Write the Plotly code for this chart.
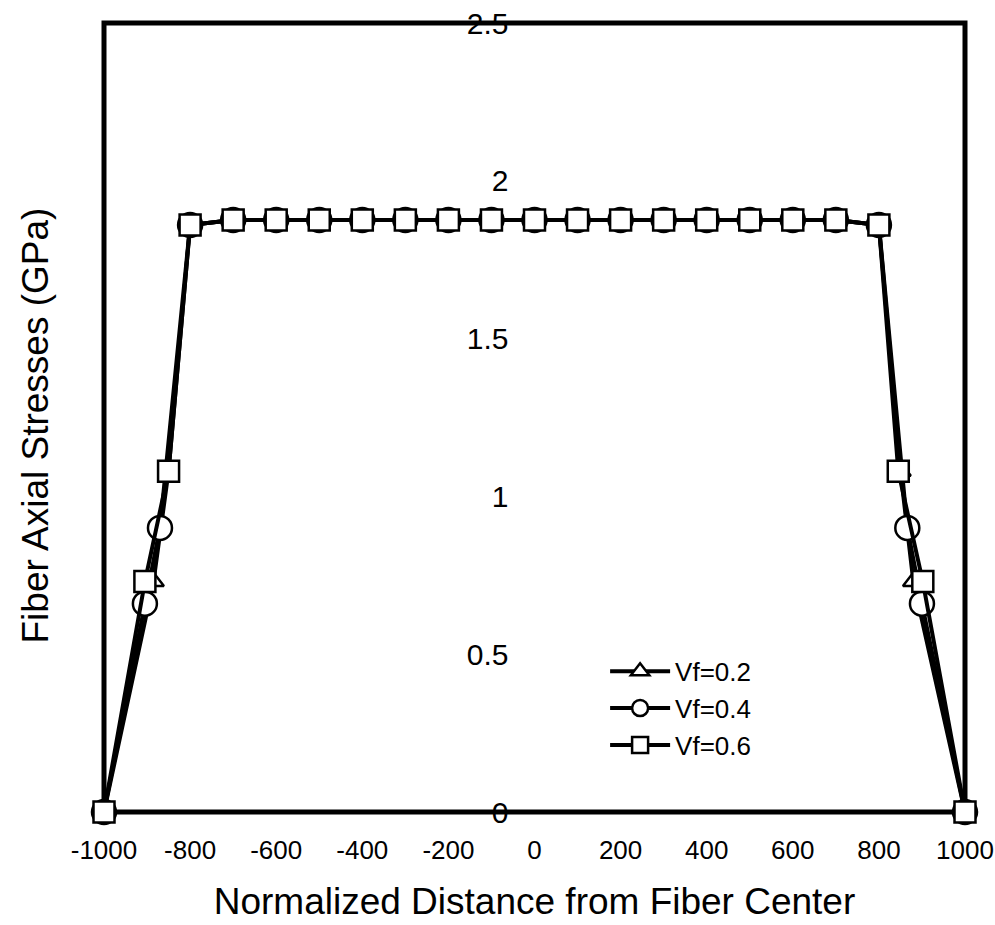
import plotly.graph_objects as go

# Data
plateau_x = [-700, -600, -500, -400, -300, -200, -100, 0, 100, 200, 300, 400, 500, 600, 700]
plateau_y = [1.876] * len(plateau_x)

x_vf02 = [-1000, -885, -850, -800] + plateau_x + [800, 850, 880, 1000]
y_vf02 = [0.0, 0.73, 1.08, 1.86] + plateau_y + [1.86, 1.08, 0.73, 0.0]

x_vf04 = [-1000, -905, -870, -800] + plateau_x + [800, 866, 900, 1000]
y_vf04 = [0.0, 0.66, 0.90, 1.86] + plateau_y + [1.86, 0.90, 0.66, 0.0]

x_vf06 = [-1000, -905, -850, -800] + plateau_x + [800, 845, 902, 1000]
y_vf06 = [0.0, 0.73, 1.08, 1.86] + plateau_y + [1.86, 1.08, 0.73, 0.0]

series_names = ["Vf=0.2", "Vf=0.4", "Vf=0.6"]
series_x = [x_vf02, x_vf04, x_vf06]
series_y = [y_vf02, y_vf04, y_vf06]
symbols = ["triangle-up", "circle", "square"]
marker_sizes = [18, 24, 21]

x_ticks = [-1000, -800, -600, -400, -200, 0, 200, 400, 600, 800, 1000]
y_ticks = [0, 0.5, 1, 1.5, 2, 2.5]
y_ticklabels = ["0", "0.5", "1", "1.5", "2", "2.5"]

FONT = "Liberation Sans, Arial, sans-serif"

fig = go.Figure()
for name, xs, ys, sym, ms in zip(series_names, series_x, series_y, symbols, marker_sizes):
    fig.add_trace(go.Scatter(
        x=xs, y=ys, name=name, mode="lines+markers",
        line=dict(color="black", width=4),
        marker=dict(symbol=sym, size=ms, color="white",
                    line=dict(width=2.5, color="black")),
        cliponaxis=False,
    ))

fig.update_layout(
    width=995, height=925,
    margin=dict(l=104, r=30, t=23, b=113, autoexpand=False),
    paper_bgcolor="white", plot_bgcolor="white",
    font=dict(family=FONT, color="black"),
    showlegend=True,
    legend=dict(
        x=0.582, y=0.208, xanchor="left", yanchor="top",
        bgcolor="rgba(0,0,0,0)", font=dict(size=26, family=FONT),
        itemwidth=60, tracegroupgap=4,
    ),
    xaxis=dict(
        range=[-1000, 1000], tickvals=x_ticks,
        ticktext=[str(v) for v in x_ticks],
        showgrid=False, zeroline=False, showline=False, automargin=False,
        ticks="", tickfont=dict(size=26), ticklabelstandoff=20,
        ticklabeloverflow="allow",
        title=dict(text="Normalized Distance from Fiber Center",
                   font=dict(size=37), standoff=24),
    ),
    yaxis=dict(
        range=[0, 2.5], tickvals=y_ticks, ticktext=y_ticklabels,
        anchor="free", position=0.5, side="left", automargin=False,
        showgrid=False, zeroline=False, showline=False,
        ticks="", tickfont=dict(size=30), ticklabelstandoff=26,
        title=dict(text=""),
    ),
    shapes=[dict(type="rect", xref="paper", yref="paper",
                 x0=0, x1=1, y0=0, y1=1,
                 line=dict(color="black", width=5), layer="below")],
    annotations=[dict(text="Fiber Axial Stresses (GPa)", textangle=-90,
                      xref="paper", yref="paper", x=-0.08, y=0.49,
                      xanchor="center", yanchor="middle", showarrow=False,
                      font=dict(size=37, family=FONT))],
)
fig.write_html("out.html")
